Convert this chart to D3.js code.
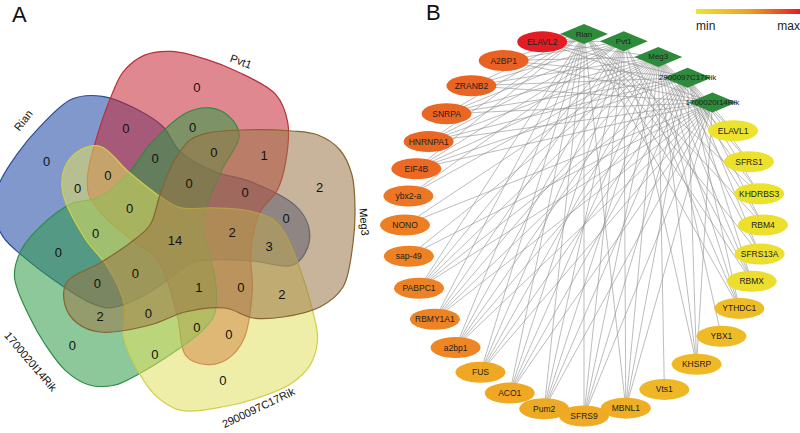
<!DOCTYPE html>
<html>
<head>
<meta charset="utf-8">
<script src="https://cdn.jsdelivr.net/npm/d3@7"></script>
<style>
  body { margin: 0; background: #fff; }
  svg { display: block; font-family: "Liberation Sans", Arial, sans-serif; }
</style>
</head>
<body>
<svg id="chart" width="800" height="433"></svg>
<script>
// ---------- data ----------
// the five lncRNA sets, in clockwise order round the venn (Meg3 first)
const sets = ['Meg3', '2900097C17Rik', '1700020I14Rik', 'Rian', 'Pvt1'];
const setFill = ['#9b7747', '#e0e061', '#2e9b47', '#1844a2', '#c72735'];
const setStroke = ['#86652f', '#cfcf48', '#2f8a42', '#2c4c9a', '#bb2f3a'];
const drawOrder = ['Rian', 'Pvt1', '1700020I14Rik', '2900097C17Rik', 'Meg3'];

// venn regions: which sets, and how many RBPs fall in it
const regionSets = [
    ['Meg3'], ['2900097C17Rik'], ['1700020I14Rik'], ['Rian'], ['Pvt1'],
    ['Pvt1', 'Meg3'], ['Meg3', '2900097C17Rik'], ['2900097C17Rik', '1700020I14Rik'], ['1700020I14Rik', 'Rian'], ['Rian', 'Pvt1'],
    ['Rian', 'Meg3'], ['Pvt1', '2900097C17Rik'], ['Meg3', '1700020I14Rik'], ['2900097C17Rik', 'Rian'], ['1700020I14Rik', 'Pvt1'],
    ['Rian', 'Pvt1', 'Meg3'], ['Pvt1', 'Meg3', '2900097C17Rik'], ['Meg3', '2900097C17Rik', '1700020I14Rik'], ['2900097C17Rik', '1700020I14Rik', 'Rian'], ['1700020I14Rik', 'Rian', 'Pvt1'],
    ['Rian', 'Meg3', '2900097C17Rik'], ['Pvt1', '2900097C17Rik', '1700020I14Rik'], ['Meg3', '1700020I14Rik', 'Rian'], ['2900097C17Rik', 'Rian', 'Pvt1'], ['1700020I14Rik', 'Pvt1', 'Meg3'],
    ['Rian', 'Pvt1', 'Meg3', '2900097C17Rik'], ['Pvt1', 'Meg3', '2900097C17Rik', '1700020I14Rik'], ['Meg3', '2900097C17Rik', '1700020I14Rik', 'Rian'], ['2900097C17Rik', '1700020I14Rik', 'Rian', 'Pvt1'], ['1700020I14Rik', 'Rian', 'Pvt1', 'Meg3'],
    ['Rian', 'Pvt1', 'Meg3', '2900097C17Rik', '1700020I14Rik']
];
const regionCounts = [
    2, 0, 0, 0, 0,
    1, 2, 0, 0, 0,
    0, 0, 2, 0, 0,
    0, 0, 0, 0, 0,
    3, 0, 0, 0, 0,
    2, 1, 0, 0, 0,
    14
];

// network: lncRNAs and RBPs, clockwise from the top
const lncRNAs = ['Rian', 'Pvt1', 'Meg3', '2900097C17Rik', '1700020I14Rik'];
const rbps = ['ELAVL1', 'SFRS1', 'KHDRBS3', 'RBM4', 'SFRS13A', 'RBMX', 'YTHDC1', 'YBX1', 'KHSRP', 'Vts1',
    'MBNL1', 'SFRS9', 'Pum2', 'ACO1', 'FUS', 'a2bp1', 'RBMY1A1', 'PABPC1', 'sap-49', 'NONO',
    'ybx2-a', 'EIF4B', 'HNRNPA1', 'SNRPA', 'ZRANB2', 'A2BP1', 'ELAVL2'];
const rbpScore = [0.02, 0.03, 0.03, 0.04, 0.05, 0.06, 0.3, 0.31, 0.32, 0.34,
    0.4, 0.42, 0.43, 0.44, 0.45, 0.6, 0.61, 0.62, 0.62, 0.63,
    0.66, 0.71, 0.72, 0.72, 0.73, 0.74, 1];
const ALL = ['Rian', 'Pvt1', 'Meg3', '2900097C17Rik', '1700020I14Rik'];
const rbpTargets = [
    ['Meg3', '2900097C17Rik'],                          // ELAVL1
    ['Meg3', '2900097C17Rik'],                          // SFRS1
    ['Rian', 'Meg3', '2900097C17Rik'],                  // KHDRBS3
    ['Rian', 'Meg3', '2900097C17Rik'],                  // RBM4
    ['Rian', 'Meg3', '2900097C17Rik'],                  // SFRS13A
    ['Rian', 'Pvt1', 'Meg3', '2900097C17Rik'],          // RBMX
    ['Rian', 'Pvt1', 'Meg3', '2900097C17Rik'],          // YTHDC1
    ['Meg3'],                                           // YBX1
    ['Pvt1', 'Meg3', '2900097C17Rik', '1700020I14Rik'], // KHSRP
    ['Meg3'],                                           // Vts1
    ALL, ALL, ALL, ALL, ALL, ALL, ALL, ALL,             // MBNL1 .. PABPC1
    ['Meg3', '1700020I14Rik'],                          // sap-49
    ['Meg3', '1700020I14Rik'],                          // NONO
    ['Pvt1', 'Meg3'],                                   // ybx2-a
    ALL, ALL, ALL, ALL, ALL, ALL                        // EIF4B .. ELAVL2
];

// ---------- panel A : 5-set venn ----------
const svg = d3.select('#chart');
const vx = 177, vy = 237;

// outline of one set (drawn for Meg3, the others are this one turned by 72 deg steps)
const petal = [[13, -97], [31, -104], [65, -107], [115, -106], [141, -102], [163, -87], [175, -62],
    [178, -27], [176, 6], [166, 50], [143, 70], [106, 80], [76, 81], [48, 71], [8, 75], [-27, 88],
    [-77, 95], [-100, 86], [-112, 68], [-110, 45], [-77, 26], [-47, 6], [-27, -12], [-17, -42], [-4, -74]];
// small per-set corrections: the source drawing is not quite symmetric
const setTweak = ['', '', 'translate(63,-107) rotate(3) scale(0.96) translate(-63,107)', '', ''];
// label anchors of each kind of shared region, in the Meg3 frame
const anchors = {
    '0,4': [87, -82], '0,3': [109, -19], '0,1,3': [92, 9],
    '0,3,4': [68, -45], '0,1,3,4': [55, -5], '0,1,2,3,4': [-2, 3]
};
// set-only counts and set names: angle (deg) and distance from the centre
const soloAngle = [-19.3, 72.3, 133.9, 210.2, 277.6];
const soloRadius = 151;
const nameAngle = [-4.6, 64.5, 139.6, 217.2, 290];
const nameRadius = [188, 189, 192, 193, 187];

const rot = (p, deg) => {
    const a = deg * Math.PI / 180;
    return [p[0] * Math.cos(a) - p[1] * Math.sin(a), p[0] * Math.sin(a) + p[1] * Math.cos(a)];
};
const outline = d3.line().curve(d3.curveCatmullRomClosed.alpha(0.5));

const venn = svg.append('g').attr('transform', `translate(${vx},${vy})`);

venn.selectAll('path.set')
    .data(drawOrder)
    .enter()
    .append('path')
    .attr('class', 'set')
    .attr('d', outline(petal))
    .attr('transform', d => {
        const k = sets.indexOf(d);
        return `${setTweak[k]} rotate(${k * 72})`;
    })
    .attr('fill', d => setFill[sets.indexOf(d)])
    .attr('fill-opacity', 0.55)
    .attr('stroke', d => setStroke[sets.indexOf(d)])
    .attr('stroke-width', 1.2);

const regionLabels = regionSets.map((s, i) => {
    const idx = s.map(n => sets.indexOf(n));
    if (idx.length === 1) {
        const p = rot([soloRadius, 0], soloAngle[idx[0]]);
        return { x: p[0], y: p[1], count: regionCounts[i] };
    }
    for (let k = 0; k < 5; k++) {
        const key = idx.map(j => (j - k + 5) % 5).sort((a, b) => a - b).join(',');
        if (anchors[key]) {
            const p = rot(anchors[key], k * 72);
            return { x: p[0], y: p[1], count: regionCounts[i] };
        }
    }
});

venn.selectAll('text.count')
    .data(regionLabels)
    .enter()
    .append('text')
    .attr('class', 'count')
    .attr('x', d => d.x)
    .attr('y', d => d.y)
    .attr('text-anchor', 'middle')
    .attr('dominant-baseline', 'central')
    .attr('font-size', 13)
    .attr('fill', '#111')
    .text(d => d.count);

// set names round the outside
venn.selectAll('text.setname')
    .data(sets)
    .enter()
    .append('text')
    .attr('class', 'setname')
    .attr('transform', (d, k) => {
        const a = nameAngle[k];
        const p = rot([nameRadius[k], 0], a);
        let r = a + 90;
        r = ((r % 360) + 360) % 360;
        if (r > 90 && r < 270) r -= 180;
        return `translate(${p[0]},${p[1]}) rotate(${r})`;
    })
    .attr('text-anchor', 'middle')
    .attr('dominant-baseline', 'central')
    .attr('font-size', 11)
    .attr('fill', '#111')
    .text(d => d);

// ---------- panel B : network ----------
const nodes = lncRNAs.map(n => ({ name: n, type: 'lnc' }))
    .concat(rbps.map((n, i) => ({ name: n, type: 'rbp', score: rbpScore[i] })));
// circular layout, a little tighter at the sides and pulled in on the diagonals
const angle = d3.scaleLinear().domain([0, nodes.length]).range([-90, 270]);
const ncx = 584, ncy = 225, nrx = 179, nry = 191, sq = 1.8;
nodes.forEach((d, i) => {
    const u = angle(i) * Math.PI / 180;
    const s = Math.sin(2 * u);
    const a = u - (5.5 * s + 2.3 * s * s) * Math.PI / 180;
    const c = Math.cos(a), n = Math.sin(a);
    const f = 1 / Math.pow(Math.pow(Math.abs(c), sq) + Math.pow(Math.abs(n), sq), 1 / sq);
    d.x = ncx + nrx * c * f;
    d.y = ncy + nry * n * f;
});
const lncNode = new Map(nodes.filter(d => d.type === 'lnc').map(d => [d.name, d]));
const links = [];
rbps.forEach((r, i) => {
    const target = nodes[lncRNAs.length + i];
    rbpTargets[i].forEach(t => links.push({ source: lncNode.get(t), target }));
});

const color = d3.scaleLinear()
    .domain([0, 0.5, 1])
    .range(['#ece62e', '#f0a022', '#e31d25']);

const net = svg.append('g');

net.selectAll('line')
    .data(links)
    .enter()
    .append('line')
    .attr('x1', d => d.source.x)
    .attr('y1', d => d.source.y)
    .attr('x2', d => d.target.x)
    .attr('y2', d => d.target.y)
    .attr('stroke', '#8e8e8e')
    .attr('stroke-width', 0.6);

net.selectAll('ellipse')
    .data(nodes.filter(d => d.type === 'rbp'))
    .enter()
    .append('ellipse')
    .attr('cx', d => d.x)
    .attr('cy', d => d.y)
    .attr('rx', 25)
    .attr('ry', 10.5)
    .attr('fill', d => color(d.score));

net.selectAll('path.lnc')
    .data(nodes.filter(d => d.type === 'lnc'))
    .enter()
    .append('path')
    .attr('class', 'lnc')
    .attr('d', d => `M${d.x - 24},${d.y}L${d.x},${d.y - 10}L${d.x + 24},${d.y}L${d.x},${d.y + 10}Z`)
    .attr('fill', '#2e8b3c');

net.selectAll('text.node')
    .data(nodes)
    .enter()
    .append('text')
    .attr('class', 'node')
    .attr('x', d => d.x)
    .attr('y', d => d.y)
    .attr('text-anchor', 'middle')
    .attr('dominant-baseline', 'central')
    .attr('font-size', d => d.type === 'lnc' ? 8 : 8.5)
    .attr('fill', '#222')
    .text(d => d.name);

// colour legend
const defs = svg.append('defs');
const grad = defs.append('linearGradient').attr('id', 'minmax');
grad.selectAll('stop')
    .data([0, 0.5, 1])
    .enter()
    .append('stop')
    .attr('offset', d => d * 100 + '%')
    .attr('stop-color', d => color(d));

const legend = svg.append('g').attr('transform', 'translate(696, 9)');
legend.append('rect')
    .attr('width', 104)
    .attr('height', 5)
    .attr('fill', 'url(#minmax)');
legend.append('text').attr('x', 0).attr('y', 21).attr('font-size', 12).attr('fill', '#222').text('min');
legend.append('text').attr('x', 104).attr('y', 21).attr('text-anchor', 'end').attr('font-size', 12).attr('fill', '#222').text('max');

// panel letters
svg.append('text').attr('x', 12).attr('y', 22).attr('font-size', 22).attr('fill', '#111').text('A');
svg.append('text').attr('x', 426).attr('y', 20).attr('font-size', 22).attr('fill', '#111').text('B');
</script>
</body>
</html>
